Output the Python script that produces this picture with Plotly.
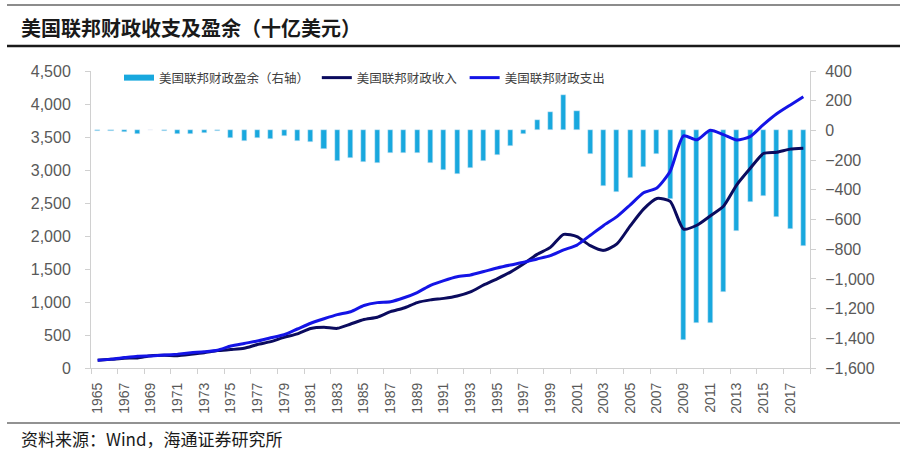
import plotly.graph_objects as go

years = list(range(1965, 2019))
revenue = [116.8, 130.8, 148.8, 153.0, 186.9, 192.8, 187.1, 207.3, 230.8, 263.2,
           279.1, 298.1, 355.6, 399.6, 463.3, 517.1, 599.3, 617.8, 600.6, 666.4,
           734.0, 769.2, 854.3, 909.2, 991.1, 1032.0, 1055.0, 1091.2, 1154.3, 1258.6,
           1351.8, 1453.1, 1579.2, 1721.7, 1827.5, 2025.2, 1991.1, 1853.1, 1782.3, 1880.1,
           2153.6, 2406.9, 2568.0, 2524.0, 2105.0, 2162.7, 2303.5, 2450.0, 2775.1, 3021.5,
           3249.9, 3268.0, 3316.2, 3329.9]
outlays = [118.2, 134.5, 157.5, 178.1, 183.6, 195.6, 210.2, 230.7, 245.7, 269.4,
           332.3, 371.8, 409.2, 458.7, 504.0, 590.9, 678.2, 745.7, 808.4, 851.8,
           946.3, 990.4, 1004.0, 1064.4, 1143.7, 1253.0, 1324.2, 1381.5, 1409.4, 1461.8,
           1515.7, 1560.5, 1601.1, 1652.5, 1701.8, 1789.0, 1862.8, 2010.9, 2159.9, 2292.8,
           2472.0, 2655.0, 2728.7, 2982.5, 3517.7, 3457.1, 3603.1, 3537.0, 3454.6, 3506.1,
           3688.4, 3852.6, 3981.6, 4109.0]
surplus = [-1.4, -3.7, -8.6, -25.2, 3.2, -2.8, -23.0, -23.4, -14.9, -6.1,
           -53.2, -73.7, -53.7, -59.2, -40.7, -73.8, -79.0, -128.0, -207.8, -185.4,
           -212.3, -221.2, -149.7, -155.2, -152.6, -221.0, -269.2, -290.3, -255.1, -203.2,
           -164.0, -107.4, -21.9, 69.3, 125.6, 236.2, 128.2, -157.8, -377.6, -412.7,
           -318.3, -248.2, -160.7, -458.6, -1412.7, -1294.4, -1299.6, -1087.0, -679.5, -484.6,
           -438.5, -584.7, -665.4, -779.1]
tick_years = list(range(1965, 2019, 2))
tick_labels = [str(y) for y in tick_years]
boundary_ticks = [y - 0.5 for y in range(1965, 2020, 2)]

name_surplus = "美国联邦财政盈余（右轴）"
name_rev = "美国联邦财政收入"
name_out = "美国联邦财政支出"

c_bar = "#18A8DE"
c_rev = "#0B0B5E"
c_out = "#1414E6"

CJK = "Noto Sans CJK SC"
LAT = "Liberation Sans, Arial"

fig = go.Figure()
fig.add_trace(go.Bar(x=years, y=surplus, name=name_surplus, marker_color=c_bar,
                     width=0.38, yaxis="y", showlegend=False))
# legend-only sample for bars (drawn as thick line like reference)
fig.add_trace(go.Scatter(x=[None], y=[None], mode="lines", name=name_surplus + "\u00a0",
                         line=dict(color=c_bar, width=6), yaxis="y"))
fig.add_trace(go.Scatter(x=years, y=revenue, name=name_rev + "\u00a0", mode="lines",
                         line=dict(color=c_rev, width=3, shape="spline", smoothing=0.6),
                         yaxis="y2"))
fig.add_trace(go.Scatter(x=years, y=outlays, name=name_out, mode="lines",
                         line=dict(color=c_out, width=3, shape="spline", smoothing=0.6),
                         yaxis="y2"))

L, R, T, B = 91, 99, 71, 83
W, H = 909, 451
pw = W - L - R
ph = H - T - B

def px(x):
    return (x - L) / pw

def py(y):
    return (H - B - y) / ph

axis_col = "#D0D0D0"
ytick_font = dict(family=LAT, size=16, color="#595959")
xtick_font = dict(family=LAT, size=14, color="#595959")

fig.update_layout(
    width=W, height=H,
    margin=dict(l=L, r=R, t=T, b=B, autoexpand=False),
    paper_bgcolor="white", plot_bgcolor="white",
    bargap=0,
    xaxis=dict(range=[1964.5, 2018.5], tickmode="array", tickvals=tick_years,
               ticktext=tick_labels, tickangle=-90, ticks="", showgrid=False,
               showline=True, linecolor=axis_col, linewidth=1, tickfont=xtick_font,
               zeroline=False, ticklabelstandoff=8,
               minor=dict(tickmode="array", tickvals=boundary_ticks, ticks="outside",
                          ticklen=5, tickcolor=axis_col, showgrid=False)),
    yaxis=dict(side="right", range=[-1600, 400], dtick=200, tickformat=",",
               showgrid=False, zeroline=False, showline=True, linecolor=axis_col,
               ticks="outside", ticklen=5, tickcolor=axis_col, tickfont=ytick_font,
               ticklabelstandoff=6),
    yaxis2=dict(side="left", overlaying="y", range=[0, 4500], dtick=500, tickformat=",",
                showgrid=False, zeroline=False, showline=True, linecolor=axis_col,
                ticks="outside", ticklen=5, tickcolor=axis_col, tickfont=ytick_font,
                ticklabelstandoff=11),
    legend=dict(orientation="h", x=px(119), y=py(78), xanchor="left", yanchor="middle",
                font=dict(family=CJK, size=12.5, color="#404040"),
                bgcolor="rgba(0,0,0,0)", itemwidth=30, tracegroupgap=0),
    showlegend=True,
)

shapes = [
    dict(type="line", xref="paper", yref="paper", x0=px(7), x1=px(900), y0=py(5), y1=py(5),
         line=dict(color="#8C8C8C", width=2)),
    dict(type="line", xref="paper", yref="paper", x0=px(7), x1=px(900), y0=py(46), y1=py(46),
         line=dict(color="#1A1A1A", width=2.5)),
    dict(type="line", xref="paper", yref="paper", x0=px(7), x1=px(900), y0=py(423), y1=py(423),
         line=dict(color="#6E6E6E", width=1.5)),
]
fig.update_layout(shapes=shapes)

fig.add_annotation(text="<b>美国联邦财政收支及盈余（十亿美元）</b>", xref="paper", yref="paper",
                   x=px(19), y=py(27), xanchor="left", yanchor="middle", showarrow=False,
                   font=dict(family=CJK, size=20, color="#1A1A1A"))
fig.add_annotation(text="资料来源：Wind，海通证券研究所", xref="paper", yref="paper",
                   x=px(19), y=py(438), xanchor="left", yanchor="middle", showarrow=False,
                   font=dict(family=CJK, size=17, color="#1A1A1A"))

fig.write_html("out.html", config={"displayModeBar": False},
               post_script="document.body.style.margin='0px';document.body.style.overflow='hidden';")
